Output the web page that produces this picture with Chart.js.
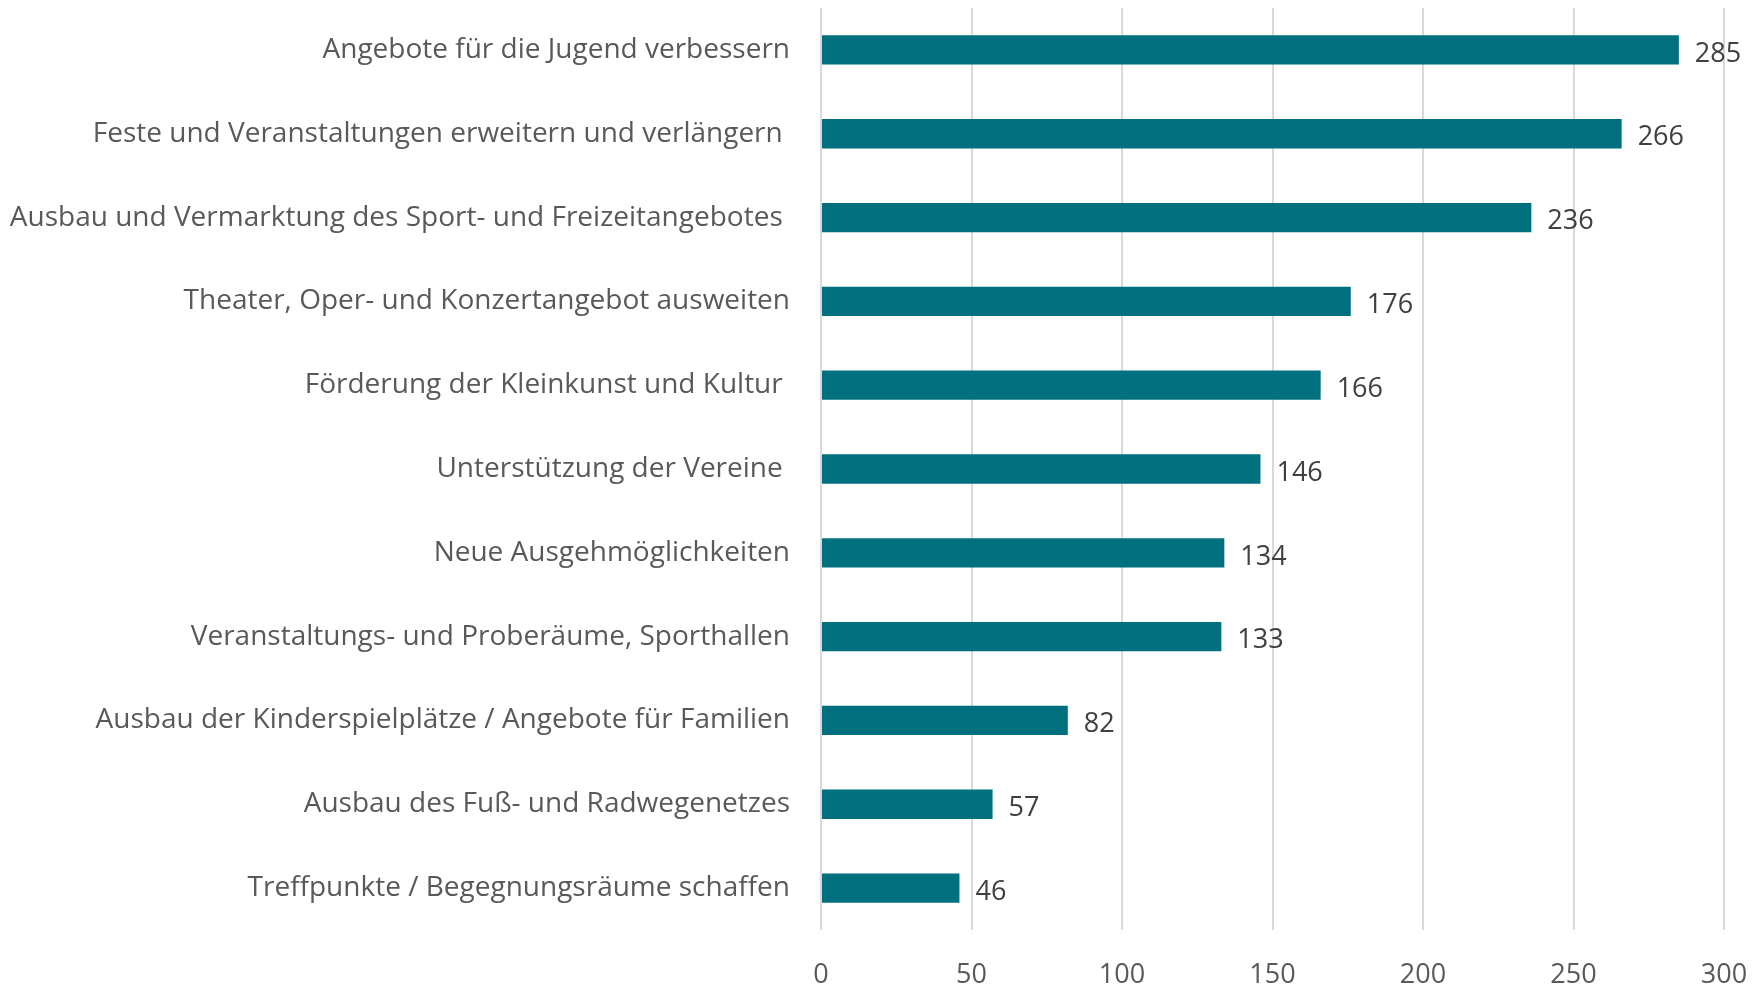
<!DOCTYPE html>
<html>
<head>
<meta charset="utf-8">
<script src="https://cdn.jsdelivr.net/npm/chart.js@4"></script>
<style>
  html, body { margin: 0; padding: 0; background: #fff; }
  #wrap { width: 1762px; height: 985px; }
</style>
</head>
<body>
<div id="wrap"><canvas id="chart"></canvas></div>
<script>
const categories = [
    "Angebote für die Jugend verbessern",
    "Feste und Veranstaltungen erweitern und verlängern ",
    "Ausbau und Vermarktung des Sport- und Freizeitangebotes ",
    "Theater, Oper- und Konzertangebot ausweiten",
    "Förderung der Kleinkunst und Kultur ",
    "Unterstützung der Vereine ",
    "Neue Ausgehmöglichkeiten",
    "Veranstaltungs- und Proberäume, Sporthallen",
    "Ausbau der Kinderspielplätze / Angebote für Familien",
    "Ausbau des Fuß- und Radwegenetzes",
    "Treffpunkte / Begegnungsräume schaffen",
];
const values = [285, 266, 236, 176, 166, 146, 134, 133, 82, 57, 46];
const xMax = 300;
const xStep = 50;

const fontFamily = "'Open Sans', 'Noto Sans', sans-serif";

// draws the number to the right of each bar
const valueLabels = {
    id: "valueLabels",
    afterDatasetsDraw(chart) {
        const ctx = chart.ctx;
        const meta = chart.getDatasetMeta(0);
        ctx.save();
        ctx.font = "27px " + fontFamily;
        ctx.fillStyle = "#404040";
        ctx.textAlign = "left";
        ctx.textBaseline = "middle";
        meta.data.forEach((bar, i) => {
            ctx.fillText(String(values[i]), bar.x + 16, bar.y + 4);
        });
        ctx.restore();
    },
};

new Chart(document.querySelector("#chart"), {
    type: "bar",
    data: {
        labels: categories,
        datasets: [
            {
                data: values,
                backgroundColor: "#00707f",
                borderWidth: 0,
                barPercentage: 0.35,
                categoryPercentage: 1,
            },
        ],
    },
    options: {
        indexAxis: "y",
        responsive: true,
        maintainAspectRatio: false,
        animation: false,
        layout: { padding: { top: 8, right: 38, bottom: 0, left: 0 } },
        plugins: {
            legend: { display: false },
            tooltip: { enabled: false },
        },
        scales: {
            x: {
                min: 0,
                max: xMax,
                ticks: {
                    stepSize: xStep,
                    padding: 29,
                    color: "#595959",
                    font: { family: fontFamily, size: 27 },
                },
                grid: { color: "#d9d9d9", lineWidth: 2, drawTicks: false },
                border: { display: false },
                afterFit(scale) {
                    scale.height = 55;
                    scale.paddingLeft = 0;
                    scale.paddingRight = 0;
                },
            },
            y: {
                ticks: {
                    padding: 23,
                    color: "#595959",
                    font: { family: fontFamily, size: 28 },
                },
                grid: { display: false },
                border: { display: false },
                afterFit(scale) {
                    scale.width = 821;
                    scale.paddingTop = 0;
                    scale.paddingBottom = 0;
                },
            },
        },
    },
    plugins: [valueLabels],
});
</script>
</body>
</html>
